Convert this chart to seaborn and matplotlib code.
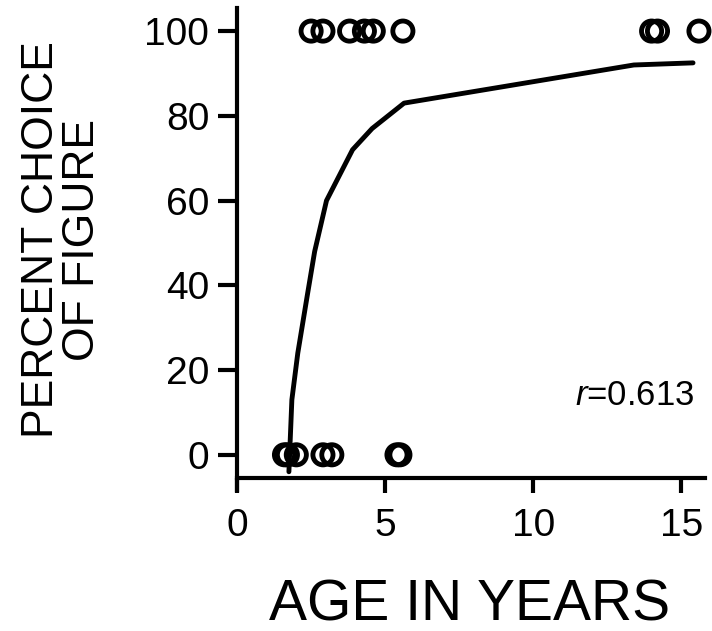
import numpy as np
import pandas as pd
import seaborn as sns
import matplotlib
matplotlib.use("Agg")
import matplotlib.pyplot as plt

# observed choices (age in years, percent choice of figure)
age_top = [2.5, 2.9, 3.8, 4.3, 4.6, 5.6, 14.0, 14.2, 15.6]
pct_top = [100, 100, 100, 100, 100, 100, 100, 100, 100]
age_bottom = [1.6, 1.7, 2.0, 2.9, 3.2, 5.4, 5.5]
pct_bottom = [0, 0, 0, 0, 0, 0, 0]

# fitted curve
fit_age = [1.75, 1.85, 2.05, 2.38, 2.62, 3.02, 3.9, 4.56, 5.64, 13.4, 15.4]
fit_pct = [-4, 13, 24, 38, 48, 60, 72, 77, 83, 92, 92.5]

x_ticks = [0, 5, 10, 15]
y_ticks = [0, 20, 40, 60, 80, 100]
r_label = "$r$=0.613"

sns.set_style("ticks")
plt.rcParams['font.family'] = ['Liberation Sans', 'DejaVu Sans']
plt.rcParams['mathtext.fontset'] = 'custom'
plt.rcParams['mathtext.it'] = 'Liberation Sans:italic'
plt.rcParams['mathtext.rm'] = 'Liberation Sans'
plt.rcParams['text.color'] = 'black'
plt.rcParams['axes.labelcolor'] = 'black'

pts = pd.DataFrame({
    "age": age_top + age_bottom,
    "pct": pct_top + pct_bottom,
})
fit = pd.DataFrame({"age": fit_age, "pct": fit_pct})

fig = plt.figure(figsize=(7.12, 6.31), dpi=100)
ax = fig.add_axes([0.333, 0.2235, 0.657, 0.7635])

sns.lineplot(data=fit, x="age", y="pct", color="black", linewidth=3.5,
             sort=False, estimator=None, ax=ax)
sns.scatterplot(data=pts, x="age", y="pct", s=210, facecolors="none",
                edgecolor="black", linewidth=3.5, ax=ax, clip_on=False, zorder=3)

ax.set_xlim(0, 15.8)
ax.set_ylim(-8.3, 105.4)
ax.set_xticks(x_ticks)
ax.set_yticks(y_ticks)

ax.spines['top'].set_visible(False)
ax.spines['right'].set_visible(False)
ax.spines['bottom'].set_position(('data', -5.4))
for sp in ['left', 'bottom']:
    ax.spines[sp].set_linewidth(3)
    ax.spines[sp].set_color("black")

ax.tick_params(axis='x', length=11, width=3, pad=11, labelsize=28, colors="black")
ax.tick_params(axis='y', length=14, width=3, pad=6, labelsize=28, colors="black")

ax.set_xlabel("AGE IN YEARS", fontsize=41, va='center')
ax.xaxis.set_label_coords(0.498, -0.239)
ax.set_ylabel("PERCENT CHOICE\nOF FIGURE", fontsize=32, va='center', linespacing=1.0)
ax.yaxis.set_label_coords(-0.374, 0.519)

ax.text(15.45, 14, r_label, fontsize=25, ha='right', va='center')

fig.savefig("out.png", dpi=100)
plt.close(fig)
